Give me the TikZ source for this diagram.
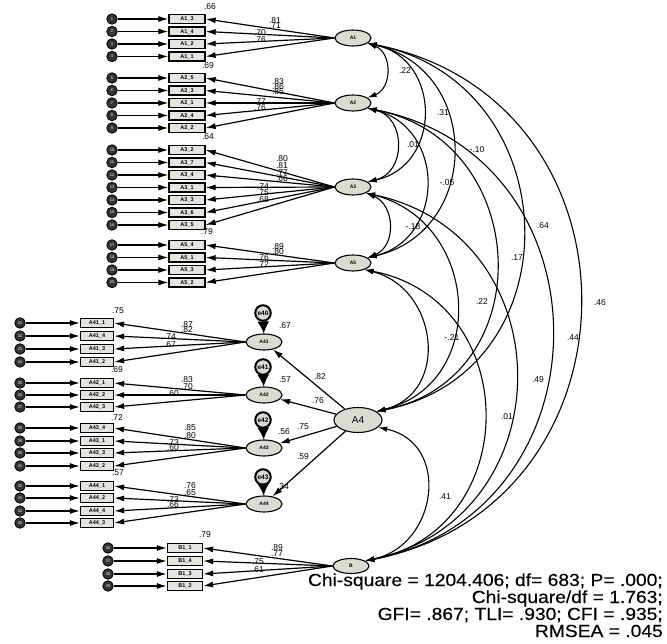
\documentclass[tikz,border=0pt]{standalone}
\usepackage{fontspec}
\setmainfont{Liberation Sans}
\newfontfamily\fitfont[FakeStretch=1.1,FakeBold=0.3]{Liberation Sans}
\usetikzlibrary{shapes.geometric,arrows.meta}
\definecolor{latfill}{HTML}{DADBD3}
\definecolor{obsfill}{HTML}{E4E5DE}
\begin{document}
\begin{tikzpicture}[x=1pt,y=1pt,
  lat/.style={ellipse,draw,line width=1.1pt,fill=latfill,minimum width=36pt,minimum height=16pt,inner sep=0pt,font=\fontsize{5}{5}\selectfont\bfseries},
  obs/.style={rectangle,draw,line width=1.3pt,fill=obsfill,minimum width=36pt,minimum height=9pt,inner sep=0pt,font=\fontsize{5.5}{5.5}\selectfont\bfseries},
  obsS/.style={obs,minimum width=33pt},
  err/.style={circle,draw,line width=0.8pt,fill=black!80,minimum size=10.5pt,inner sep=0pt,text=white!75!black,font=\fontsize{4}{4}\selectfont\bfseries},
  dist/.style={circle,draw,line width=2pt,fill=latfill,minimum size=15.5pt,inner sep=0pt,font=\fontsize{6.5}{6.5}\selectfont\bfseries},
  pth/.style={line width=1.2pt,-{Latex[length=10pt,width=6pt]}},
  dpth/.style={line width=1.2pt,-{Latex[length=12pt,width=12pt]}},
  cov/.style={line width=1.1pt,{Latex[length=9pt,width=5.5pt]}-{Latex[length=9pt,width=5.5pt]}},
  lbl/.style={inner sep=0pt,font=\fontsize{8.5}{8.5}\selectfont},
  fitx/.style={inner sep=0pt,anchor=base east,font=\fitfont\fontsize{17.5}{17.5}\selectfont}
]
\useasboundingbox (0,0) rectangle (667,-644);
% latent variables
\node[lat] (A1) at (353,-38) {A1};
\node[lat] (A2) at (353,-103) {A2};
\node[lat] (A3) at (353,-187) {A3};
\node[lat] (A5) at (353,-263) {A5};
\node[lat] (A41) at (264,-342) {A41};
\node[lat] (A42) at (264,-395) {A42};
\node[lat] (A43) at (264,-448) {A43};
\node[lat] (A44) at (264,-504) {A44};
\node[lat,minimum width=48pt,minimum height=25pt,font=\fontsize{10}{10}\selectfont] (A4) at (358,-420) {A4};
\node[lat,minimum height=15pt] (B) at (351,-566) {B};
% indicators
\foreach \k/\y/\i in {3/19/1,4/31.5/2,2/44/3,1/56.5/4}{
  \node[obs] (bA1-\k) at (187,-\y) {A1\_\k};
  \node[err] (eA1-\k) at (112,-\y) {\i};
  \draw[pth] (eA1-\k) -- (bA1-\k);
  \draw[pth] (A1.west) -- (bA1-\k.east);
}
\foreach \k/\y/\i in {5/78/5,3/90.5/6,1/103/7,4/115.5/8,2/128/9}{
  \node[obs] (bA2-\k) at (187,-\y) {A2\_\k};
  \node[err] (eA2-\k) at (112,-\y) {\i};
  \draw[pth] (eA2-\k) -- (bA2-\k);
  \draw[pth] (A2.west) -- (bA2-\k.east);
}
\foreach \k/\y/\i in {2/150/10,7/162.5/11,4/175/12,1/187.5/13,3/200/14,6/212.5/15,5/225/16}{
  \node[obs] (bA3-\k) at (187,-\y) {A3\_\k};
  \node[err] (eA3-\k) at (112,-\y) {\i};
  \draw[pth] (eA3-\k) -- (bA3-\k);
  \draw[pth] (A3.west) -- (bA3-\k.east);
}
\foreach \k/\y/\i in {4/245/17,1/257.5/18,3/270/19,2/282.5/20}{
  \node[obs] (bA5-\k) at (187,-\y) {A5\_\k};
  \node[err] (eA5-\k) at (112,-\y) {\i};
  \draw[pth] (eA5-\k) -- (bA5-\k);
  \draw[pth] (A5.west) -- (bA5-\k.east);
}
\foreach \k/\y/\i in {1/323/21,4/336/22,3/349/23,2/362/24}{
  \node[obsS] (bA41-\k) at (97,-\y) {A41\_\k};
  \node[err] (eA41-\k) at (20,-\y) {\i};
  \draw[pth] (eA41-\k) -- (bA41-\k);
  \draw[pth] (A41.west) -- (bA41-\k.east);
}
\foreach \k/\y/\i in {1/383/25,2/395/26,3/407/27}{
  \node[obsS] (bA42-\k) at (97,-\y) {A42\_\k};
  \node[err] (eA42-\k) at (20,-\y) {\i};
  \draw[pth] (eA42-\k) -- (bA42-\k);
  \draw[pth] (A42.west) -- (bA42-\k.east);
}
\foreach \k/\y/\i in {4/428/28,1/441/29,3/453/30,2/466/31}{
  \node[obsS] (bA43-\k) at (97,-\y) {A43\_\k};
  \node[err] (eA43-\k) at (20,-\y) {\i};
  \draw[pth] (eA43-\k) -- (bA43-\k);
  \draw[pth] (A43.west) -- (bA43-\k.east);
}
\foreach \k/\y/\i in {1/486/32,2/498/33,4/511/34,3/523/35}{
  \node[obsS] (bA44-\k) at (97,-\y) {A44\_\k};
  \node[err] (eA44-\k) at (20,-\y) {\i};
  \draw[pth] (eA44-\k) -- (bA44-\k);
  \draw[pth] (A44.west) -- (bA44-\k.east);
}
\foreach \k/\y/\i in {1/548/36,4/561/37,3/574/38,2/586/39}{
  \node[obs,minimum width=35pt] (bB1-\k) at (185,-\y) {B1\_\k};
  \node[err] (eB1-\k) at (108,-\y) {\i};
  \draw[pth] (eB1-\k) -- (bB1-\k);
  \draw[pth] (B.west) -- (bB1-\k.east);
}
% disturbances
\node[dist] (d40) at (263,-313) {e40};
\node[dist] (d41) at (263,-367) {e41};
\node[dist] (d42) at (263,-420) {e42};
\node[dist] (d43) at (263,-477) {e43};
\draw[dpth] (d40) -- (A41);
\draw[dpth] (d41) -- (A42);
\draw[dpth] (d42) -- (A43);
\draw[dpth] (d43) -- (A44);
% structural paths
\draw[pth] (A4) -- (A41);
\draw[pth] (A4) -- (A42);
\draw[pth] (A4) -- (A43);
\draw[pth] (A4) -- (A44);
% covariances
\draw[cov] (A1.-20) to[out=-21,in=21,looseness=1.25] (A2.20);
\draw[cov] (A1.-20) to[out=-12,in=12,looseness=1.41] (A3.20);
\draw[cov] (A1.-20) to[out=-13,in=13,looseness=1.4] (A5.20);
\draw[cov] (A1.-20) to[out=-11,in=11,looseness=1.42] (A4.25);
\draw[cov] (A1.-20) to[out=-11,in=11,looseness=1.43] (B.20);
\draw[cov] (A2.-20) to[out=-13,in=13,looseness=1.39] (A3.20);
\draw[cov] (A2.-20) to[out=-14,in=14,looseness=1.38] (A5.20);
\draw[cov] (A2.-20) to[out=-11,in=11,looseness=1.42] (A4.25);
\draw[cov] (A2.-20) to[out=-11,in=11,looseness=1.42] (B.20);
\draw[cov] (A3.-25) to[out=-22,in=22,looseness=1.24] (A5.20);
\draw[cov] (A3.-25) to[out=-14,in=14,looseness=1.37] (A4.25);
\draw[cov] (A3.-25) to[out=-12,in=12,looseness=1.42] (B.20);
\draw[cov] (A5.-30) to[out=-14,in=14,looseness=1.37] (A4.25);
\draw[cov] (A5.-30) to[out=-11,in=11,looseness=1.42] (B.20);
\draw[cov] (A4.-20) to[out=-12,in=12,looseness=1.42] (B.20);
% labels
\foreach \x/\y/\t [count=\i] in {
 275/21/.81,275/26/.71,260/33/.70,260/40/.76,
 278/82/.83,278/87/.86,278/92/.85,260/102/.77,260/108/.76,
 282/159/.80,282/166/.81,282/173/.77,282/179/.66,263/187/.74,263/193/.75,263/200/.68,
 278/247/.89,278/252/.80,263/258/.76,263/265/.72,
 187/325/.87,187/330/.82,170/337/.74,170/345/.67,
 187/380/.83,187/387/.70,173/394/.60,
 190/428/.85,190/436/.80,173/443/.73,173/448/.60,
 190/486/.76,190/493/.65,173/500/.73,173/505/.66,
 277/548/.89,277/554/.77,258/562/.75,258/570/.61,
 210/7/.66,208/66/.69,208/137/.64,207/232/.79,118/311/.75,117/370/.69,117/418/.72,118/473/.57,205/535/.79,
 285/326/.67,285/380/.57,284/432/.56,283/487/.34,
 320/377/.82,318/401/.76,303/427/.75,303/457/.59,
 405/71/.22,443/113/.31,413/145/.01,477/150/-.10,447/183/-.05,413/227/-.18,
 543/226/.64,517/258/.17,482/302/.22,452/338/-.21,
 600/303/.46,573/338/.44,538/380/.49,507/417/.01,445/497/.41}
 {\node[lbl] (lab\i) at (\x,-\y) {\t};}
% fit statistics
\node[fitx] (f1) at (663,-586) {Chi-square = 1204.406; df= 683; P= .000;};
\node[fitx] (f2) at (663,-603) {Chi-square/df = 1.763;};
\node[fitx] (f3) at (663,-620) {GFI= .867; TLI= .930; CFI = .935;};
\node[fitx] (f4) at (663,-637) {RMSEA = .045};
\end{tikzpicture}
\end{document}
